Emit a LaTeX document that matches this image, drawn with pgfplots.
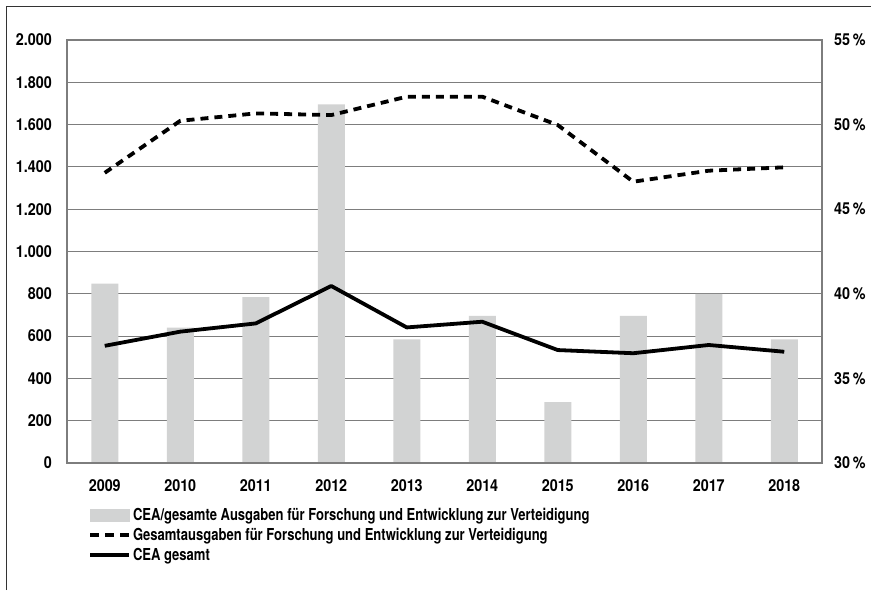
\documentclass[border=0pt]{standalone}
\usepackage{fontspec}
\setmainfont{TeX Gyre Heros}[FakeStretch=0.87]
\newfontfamily\legfont{TeX Gyre Heros}[FakeStretch=0.79]
\usepackage{pgfplots}
\pgfplotsset{compat=1.18}
\definecolor{barcol}{RGB}{210,211,211}
\definecolor{gridcol}{RGB}{125,125,125}
\newcommand{\lblfont}{\fontsize{16.5}{19}\selectfont\bfseries}
\newcommand{\lgfont}{\legfont\fontsize{16.5}{19}\selectfont\bfseries}
\pgfplotsset{
  base/.style={
    scale only axis, width=755pt, height=423pt,
    at={(67pt,127pt)}, anchor=south west,
    xmin=-0.5, xmax=9.5,
    major tick length=0pt,
    tick style={draw=none},
    ticklabel style={font=\lblfont},
    /pgf/number format/assume math mode=true,
  }
}
\begin{document}
\begin{tikzpicture}[x=1pt,y=1pt]
\useasboundingbox (0,0) rectangle (871,590);
\draw[line width=1.3pt, black!80] (6.5,0) -- (6.5,583.5) -- (871,583.5);

% Axis 1: left scale, grid, tick labels
\begin{axis}[base,
  ymin=0, ymax=2000, ytick={0,200,...,2000},
  yticklabel style={inner sep=0pt, anchor=east, xshift=-15pt},
  yticklabel={\pgfmathprintnumber[/pgf/number format/.cd,fixed,1000 sep={.},assume math mode=true]{\tick}},
  xtick={0,...,9},
  xticklabels={2009,2010,2011,2012,2013,2014,2015,2016,2017,2018},
  xticklabel style={inner sep=0pt, anchor=north, yshift=-16pt},
  ymajorgrids, major grid style={gridcol, line width=1pt},
  axis line style={draw=none},
]
\end{axis}

% Axis 2: right scale, bars
\begin{axis}[base,
  ymin=30, ymax=55, ytick={30,35,...,55},
  axis y line*=right, hide x axis,
  axis line style={draw=none},
  yticklabel style={inner sep=0pt, anchor=west, xshift=12pt},
  yticklabel={\pgfmathprintnumber{\tick}\,\%},
  ybar, bar width=27pt,
]
\addplot[fill=barcol, draw=none, bar shift=0pt] coordinates {
(0,40.6) (1,38.0) (2,39.8) (3,51.2) (4,37.3) (5,38.7) (6,33.6) (7,38.7) (8,40.0) (9,37.3)};
\end{axis}

% Axis 3: frame, lines, legend
\begin{axis}[base,
  ymin=0, ymax=2000,
  xtick=\empty, ytick=\empty,
  axis line style={gridcol, line width=1.1pt},
  legend cell align=left,
  legend style={draw=none, fill=none, inner sep=0pt, font=\lgfont,
    at={(21pt,-43pt)}, anchor=north west,
    row sep=2pt,
    /tikz/every even column/.append style={column sep=10pt}},
]
\addlegendimage{area legend, legend image code/.code={\fill[barcol] (0pt,-6pt) rectangle (39pt,6pt);}}
\addlegendentry{CEA/gesamte Ausgaben für Forschung und Entwicklung zur Verteidigung}
\addplot[black, line width=3.8pt, dash pattern=on 8pt off 6pt, line cap=butt, line join=round,
  legend image code/.code={\draw[black, line width=3.8pt, dash pattern=on 9pt off 6pt] (0pt,0pt) -- (39pt,0pt);}]
  coordinates {(0,1372) (1,1618) (2,1653) (3,1645) (4,1732) (5,1732) (6,1598) (7,1330) (8,1382) (9,1398)};
\addlegendentry{Gesamtausgaben für Forschung und Entwicklung zur Verteidigung}
\addplot[black, line width=3.8pt, line join=round,
  legend image code/.code={\draw[black, line width=3.8pt] (0pt,0pt) -- (39pt,0pt);}]
  coordinates {(0,554) (1,621) (2,660) (3,837) (4,641) (5,668) (6,534) (7,519) (8,558) (9,526)};
\addlegendentry{CEA gesamt}
\end{axis}
\end{tikzpicture}
\end{document}
